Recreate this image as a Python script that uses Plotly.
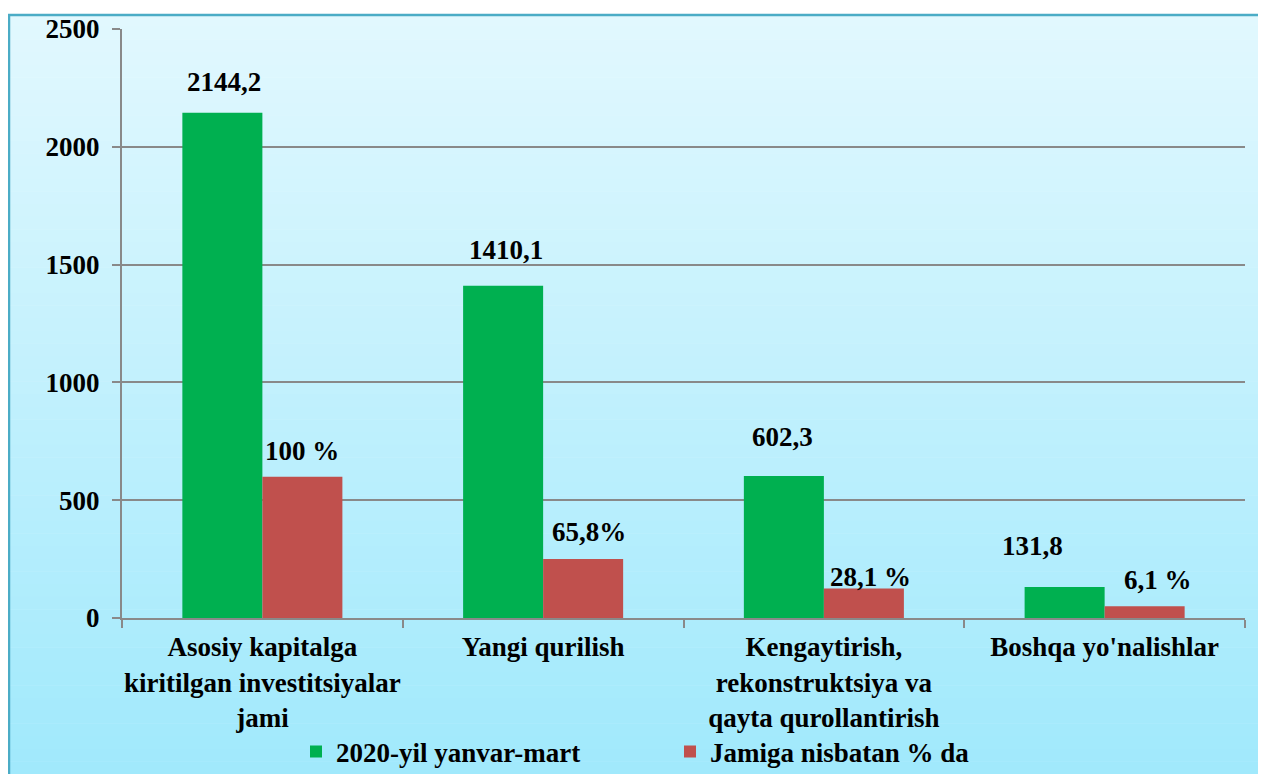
import plotly.graph_objects as go

categories = [
    "Asosiy kapitalga<br>kiritilgan investitsiyalar<br>jami",
    "Yangi qurilish",
    "Kengaytirish,<br>rekonstruktsiya va<br>qayta qurollantirish",
    "Boshqa yo'nalishlar",
]
series1_name = "2020-yil yanvar-mart"
series1_values = [2144.2, 1410.1, 602.3, 131.8]
series1_labels = ["2144,2", "1410,1", "602,3", "131,8"]
series2_name = "Jamiga nisbatan % da"
series2_values = [600, 250, 125, 50]
series2_labels = ["100 %", "65,8%", "28,1 %", "6,1 %"]
y_ticks = [0, 500, 1000, 1500, 2000, 2500]

# label placement tweaks (pixels): (dx, dy)
s1_shifts = [(2, 31), (3, 36), (-1, 39), (-32, 41)]
s2_shifts = [(0, 26), (6, 27), (7, 12), (13, 26)]

GREEN = "#00B050"
RED = "#C0504D"
FONT = "Liberation Serif"
FS = 27

# page offset of the figure (body margin)
OX, OY = 8, 8
W, H = 1258, 766
L, R, T, B = 114, 21, 21, 156
PW, PH = W - L - R, H - T - B


def px_x(p):  # page pixel -> paper x
    return (p - OX - L) / PW


def px_y(p):  # page pixel -> paper y
    return (H - B - (p - OY)) / PH


fig = go.Figure()
fig.add_trace(go.Bar(x=categories, y=series1_values, name=series1_name,
                     marker=dict(color=GREEN, line=dict(width=0))))
fig.add_trace(go.Bar(x=categories, y=series2_values, name=series2_name,
                     marker=dict(color=RED, line=dict(width=0))))

for vals, labels, shifts, off in [(series1_values, series1_labels, s1_shifts, -40),
                                  (series2_values, series2_labels, s2_shifts, 40)]:
    for c, v, t, (dx, dy) in zip(categories, vals, labels, shifts):
        fig.add_annotation(x=c, y=v, text=t, showarrow=False, xshift=off + dx,
                           yshift=dy, yanchor="middle", xanchor="center",
                           font=dict(family=FONT, size=FS, color="black", weight="bold"))

# gradient background
shapes = []
top_c = (226, 248, 254)
bot_c = (160, 233, 252)
y_top, y_bot = 14, 774
n = 60
for i in range(n):
    a = y_top + (y_bot - y_top) * i / n
    b = y_top + (y_bot - y_top) * (i + 1) / n + 0.5
    f = (i + 0.5) / n
    col = tuple(round(top_c[k] + (bot_c[k] - top_c[k]) * f) for k in range(3))
    shapes.append(dict(type="rect", xref="paper", yref="paper", layer="below",
                       x0=px_x(8), x1=px_x(1275), y0=px_y(b), y1=px_y(a),
                       fillcolor="rgb(%d,%d,%d)" % col, line=dict(width=0)))
shapes.append(dict(type="rect", xref="paper", yref="paper", layer="below",
                   x0=px_x(9), x1=px_x(1280), y0=px_y(790), y1=px_y(15),
                   fillcolor="rgba(0,0,0,0)", line=dict(color="#4BACC6", width=2.5)))

fig.update_layout(
    width=W, height=H,
    margin=dict(l=L, r=R, t=T, b=B, pad=0, autoexpand=False),
    paper_bgcolor="white",
    plot_bgcolor="rgba(0,0,0,0)",
    barmode="group",
    bargap=0.43,
    bargroupgap=0,
    shapes=shapes,
    showlegend=True,
    legend=dict(orientation="h", x=px_x(296), xanchor="left", y=px_y(752),
                yanchor="middle", entrywidth=329, entrywidthmode="pixels",
                font=dict(family=FONT, size=FS, color="black", weight="bold"),
                bgcolor="rgba(0,0,0,0)", traceorder="normal"),
    xaxis=dict(
        showline=True, linecolor="#898989", linewidth=2,
        ticks="outside", tickson="boundaries", ticklen=8, tickcolor="#898989",
        tickwidth=2, showgrid=False, automargin=False, tickangle=0,
        tickfont=dict(family=FONT, size=FS, color="black", weight="bold"),
        ticklabelstandoff=4,
    ),
    yaxis=dict(
        range=[0, 2500], tickvals=y_ticks, showline=True, linecolor="#898989",
        linewidth=2, ticks="outside", ticklen=8, tickcolor="#898989", tickwidth=2,
        showgrid=True, gridcolor="#898989", gridwidth=2, zeroline=False,
        automargin=False,
        tickfont=dict(family=FONT, size=FS, color="black", weight="bold"),
        ticklabelstandoff=7,
    ),
)

fig.write_html("out.html")
